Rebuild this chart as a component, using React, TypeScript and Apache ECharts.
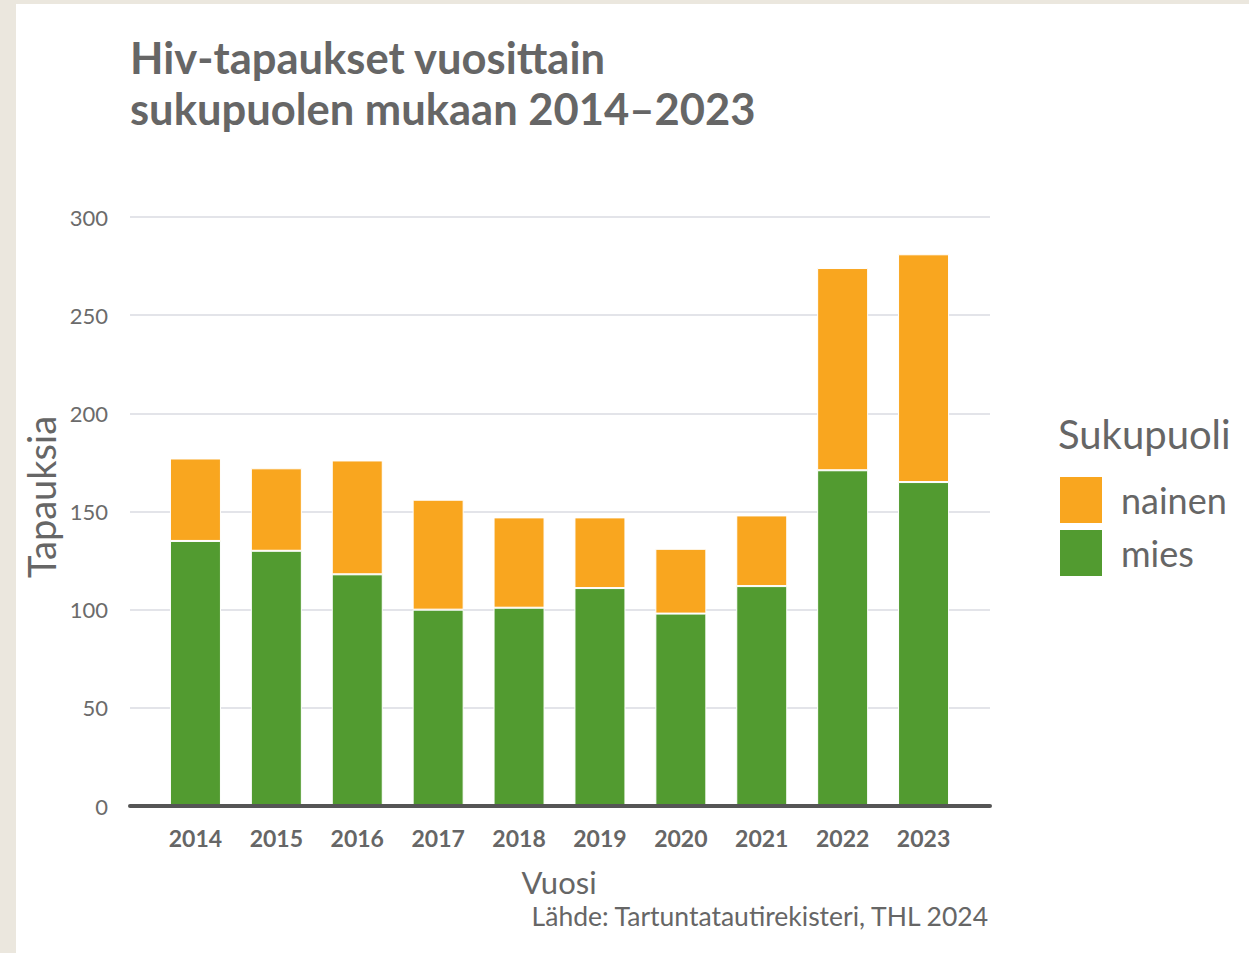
import React, { useEffect, useRef } from "react";
import * as echarts from "echarts";

const years = ["2014", "2015", "2016", "2017", "2018", "2019", "2020", "2021", "2022", "2023"];
const mies = [135, 130, 118, 100, 101, 111, 98, 112, 171, 165];
const nainen = [42, 42, 58, 56, 46, 36, 33, 36, 103, 116];
const yTicks = [0, 50, 100, 150, 200, 250, 300];

const FONT = "Lato, 'Source Sans Pro', 'Noto Sans', sans-serif";
const ORANGE = "#F9A61F";
const GREEN = "#529B30";
const TEXT = "#666666";

export default function App() {
  const ref = useRef<HTMLDivElement>(null);
  useEffect(() => {
    if (!ref.current) return;
    const chart = echarts.init(ref.current, undefined, { renderer: "svg" });
    const yMin = yTicks[0];
    const yMax = yTicks[yTicks.length - 1];
    const yStep = yTicks[1] - yTicks[0];
    chart.setOption({
      animation: false,
      backgroundColor: "#EBE7DE",
      textStyle: { fontFamily: FONT },
      graphic: [
        {
          type: "rect",
          z: -10,
          shape: { x: 16, y: 4, width: 1249 - 16, height: 953 - 4 },
          style: { fill: "#ffffff" },
          silent: true,
        },
        {
          type: "text",
          x: 130,
          y: 31,
          style: {
            text: "Hiv-tapaukset vuosittain\nsukupuolen mukaan 2014–2023",
            font: `bold 43.5px ${FONT}`,
            lineHeight: 51,
            fill: TEXT,
            textAlign: "left",
            textVerticalAlign: "top",
          },
        },
        {
          type: "text",
          x: 41,
          y: 497,
          rotation: Math.PI / 2,
          style: {
            text: "Tapauksia",
            font: `38px ${FONT}`,
            fill: TEXT,
            textAlign: "center",
            textVerticalAlign: "middle",
          },
        },
        {
          type: "text",
          x: 559,
          y: 882,
          style: {
            text: "Vuosi",
            font: `31px ${FONT}`,
            fill: TEXT,
            textAlign: "center",
            textVerticalAlign: "middle",
          },
        },
        {
          type: "text",
          x: 988,
          y: 916,
          style: {
            text: "Lähde: Tartuntatautirekisteri, THL 2024",
            font: `26.5px ${FONT}`,
            fill: TEXT,
            textAlign: "right",
            textVerticalAlign: "middle",
          },
        },
        {
          type: "text",
          x: 1058,
          y: 434,
          style: {
            text: "Sukupuoli",
            font: `40px ${FONT}`,
            fill: TEXT,
            textAlign: "left",
            textVerticalAlign: "middle",
          },
        },
      ],
      legend: {
        data: ["nainen", "mies"],
        orient: "vertical",
        left: 1060,
        top: 477,
        padding: 0,
        itemWidth: 42,
        itemHeight: 46,
        itemGap: 7,
        icon: "rect",
        itemStyle: { borderWidth: 0 },
        textStyle: { fontSize: 36, color: TEXT, fontFamily: FONT, padding: [0, 0, 0, 14] },
        selectedMode: false,
      },
      grid: [
        { left: 130, right: 259, top: 217, bottom: 147 },
        { left: 155, right: 285, top: 217, bottom: 147 },
      ],
      xAxis: [
        {
          gridIndex: 0,
          type: "value",
          min: 0,
          max: 1,
          z: 10,
          axisLine: { show: true, lineStyle: { color: "#555555", width: 4 } },
          axisTick: { show: false },
          axisLabel: { show: false },
          splitLine: { show: false },
        },
        {
          gridIndex: 1,
          type: "category",
          data: years,
          axisLine: { show: false },
          axisTick: { show: false },
          axisLabel: {
            margin: 20,
            fontSize: 23,
            fontWeight: "bold",
            color: "#666666",
            fontFamily: FONT,
          },
        },
      ],
      yAxis: [
        {
          gridIndex: 0,
          type: "value",
          min: yMin,
          max: yMax,
          interval: yStep,
          axisLine: { show: false },
          axisTick: { show: false },
          axisLabel: { margin: 22, fontSize: 22, color: "#6b6b6b", fontFamily: FONT },
          splitLine: { show: true, lineStyle: { color: "#E3E4E9", width: 2 } },
        },
        {
          gridIndex: 1,
          type: "value",
          min: yMin,
          max: yMax,
          interval: yStep,
          show: false,
          splitLine: { show: false },
        },
      ],
      series: [
        {
          name: "mies",
          type: "bar",
          stack: "total",
          xAxisIndex: 1,
          yAxisIndex: 1,
          barWidth: 51,
          data: mies,
          itemStyle: { color: GREEN, borderColor: "#ffffff", borderWidth: 1 },
        },
        {
          name: "nainen",
          type: "bar",
          stack: "total",
          xAxisIndex: 1,
          yAxisIndex: 1,
          barWidth: 51,
          data: nainen,
          itemStyle: { color: ORANGE, borderColor: "#ffffff", borderWidth: 1 },
        },
      ],
    });
    return () => chart.dispose();
  }, []);
  return (
    <div
      ref={ref}
      style={{ position: "fixed", left: 0, top: 0, width: 1249, height: 953 }}
    />
  );
}
